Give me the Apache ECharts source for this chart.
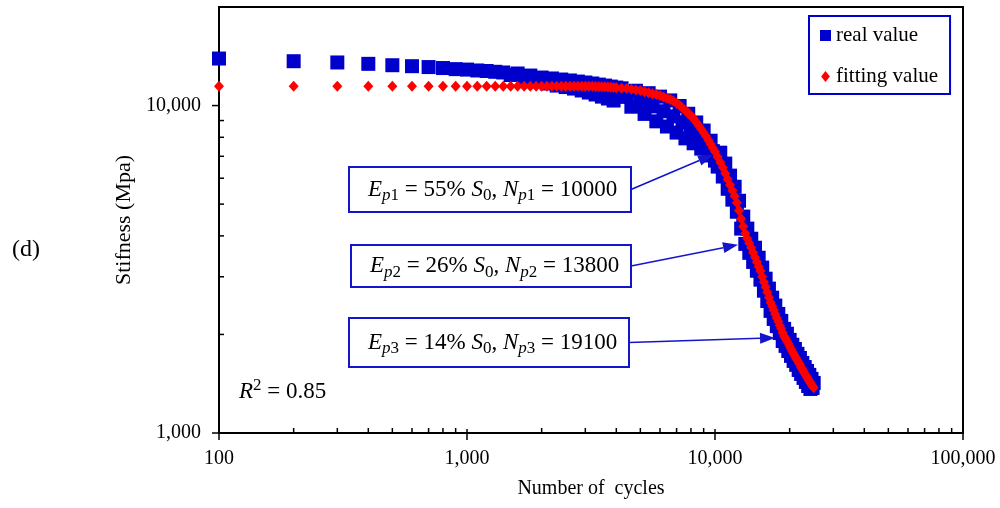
<!DOCTYPE html>
<html>
<head>
<meta charset="utf-8">
<script src="https://cdn.jsdelivr.net/npm/echarts@6/dist/echarts.min.js"></script>
<style>
  html, body { margin: 0; padding: 0; background: #fff; }
  #container { width: 1000px; height: 508px; }
</style>
</head>
<body>
<div id="container"></div>
<script>
// cycles shared by both series
const cycles = [
  100, 200, 300, 400, 500, 600, 700, 800, 900, 1000,
  1100, 1200, 1300, 1400, 1500, 1600, 1700, 1800, 1900, 2000,
  2100, 2200, 2300, 2400, 2500, 2600, 2700, 2800, 2900, 3000,
  3100, 3200, 3300, 3400, 3500, 3600, 3700, 3800, 3900, 4000,
  4200, 4400, 4600, 4800, 5000, 5200, 5400, 5600, 5800, 6000,
  6200, 6400, 6600, 6800, 7000, 7200, 7400, 7600, 7800, 8000,
  8200, 8400, 8600, 8800, 9000, 9200, 9400, 9600, 9800, 10000,
  10250, 10500, 10750, 11000, 11250, 11500, 11750, 12000, 12250, 12500,
  12750, 13000, 13250, 13500, 13750, 14000, 14250, 14500, 14750, 15000,
  15250, 15500, 15750, 16000, 16250, 16500, 16750, 17000, 17250, 17500,
  17750, 18000, 18250, 18500, 18750, 19000, 19250, 19500, 19750, 20000,
  20250, 20500, 20750, 21000, 21250, 21500, 21750, 22000, 22250, 22500,
  22750, 23000, 23250, 23500, 23750, 24000, 24250, 24500, 24750, 25000
];

// measured stiffness (MPa)
const realStiffness = [
  13920, 13660, 13540, 13410, 13280, 13190, 13110, 13020, 12920, 12880,
  12800, 12750, 12680, 12620, 12400, 12530, 12180, 12350, 11930, 12180,
  11680, 12100, 11510, 12010, 11390, 11930, 11270, 11840, 11120, 11760,
  10960, 11680, 10810, 11590, 10650, 11510, 10510, 11430, 10360, 11350,
  11290, 10630, 9920, 11100, 10290, 9430, 10910, 9940, 8950, 10650,
  9610, 8630, 10370, 9270, 8270, 9970, 8880, 7940, 9440, 8450,
  7670, 8880, 8080, 7390, 8390, 7650, 7040, 7810, 7260, 6790,
  6510, 7180, 6070, 6650, 5570, 6110, 5160, 5650, 4740, 5120,
  4210, 4580, 3780, 4210, 3550, 3920, 3330, 3680, 3130, 3430,
  2940, 3200, 2720, 2960, 2530, 2760, 2360, 2590, 2230, 2450,
  2120, 2310, 2020, 2200, 1910, 2080, 1845, 2010, 1780, 1925,
  1720, 1860, 1660, 1805, 1615, 1745, 1558, 1695, 1515, 1637,
  1473, 1590, 1432, 1547, 1392, 1505, 1363, 1463, 1373, 1422
];

// fitted stiffness (MPa)
const fittedStiffness = [
  11460, 11460, 11460, 11460, 11460, 11460, 11460, 11460, 11460, 11460,
  11460, 11460, 11460, 11460, 11460, 11460, 11460, 11460, 11460, 11460,
  11460, 11460, 11460, 11460, 11460, 11460, 11460, 11460, 11460, 11460,
  11450, 11445, 11440, 11430, 11420, 11410, 11395, 11380, 11360, 11340,
  11300, 11270, 11220, 11160, 11110, 11020, 10940, 10870, 10800, 10730,
  10630, 10530, 10440, 10330, 10170, 10020, 9830, 9650, 9480, 9310,
  9130, 8900, 8670, 8470, 8260, 8060, 7840, 7630, 7420, 7230,
  6960, 6710, 6470, 6200, 5960, 5720, 5500, 5290, 5050, 4780,
  4510, 4270, 4070, 3930, 3800, 3680, 3560, 3440, 3330, 3220,
  3125, 3000, 2890, 2790, 2690, 2595, 2505, 2440, 2370, 2305,
  2245, 2190, 2130, 2080, 2025, 1975, 1945, 1910, 1875, 1840,
  1805, 1775, 1745, 1720, 1690, 1665, 1640, 1615, 1585, 1565,
  1540, 1520, 1500, 1480, 1460, 1440, 1425, 1405, 1390, 1375
];

// axis ticks
const xMajorTicks = [100, 1000, 10000, 100000];
const xMinorTicks = [200, 300, 400, 500, 600, 700, 800, 900,
  2000, 3000, 4000, 5000, 6000, 7000, 8000, 9000,
  20000, 30000, 40000, 50000, 60000, 70000, 80000, 90000];
const yMajorTicks = [1000, 10000];
const yMinorTicks = [2000, 3000, 4000, 5000, 6000, 7000, 8000, 9000];

// annotations
const notePercent = [55, 26, 14];
const noteCycles = [10000, 13800, 19100];
const arrowTargets = [[9820, 7080], [12380, 3758], [17460, 1952]];
const rSquared = 0.85;

const FONT = '"Liberation Serif", "Times New Roman", serif';
const BLUE = '#0000cc';
const LINE_BLUE = '#1414cc';

const container = document.getElementById('container');
const chart = echarts.init(container, null, { renderer: 'canvas' });

function fmt(v) {
  return Math.round(v).toLocaleString('en-US');
}
function decadeLabel(v) {
  const e = Math.log10(v);
  return Math.abs(e - Math.round(e)) < 1e-6 ? fmt(v) : '';
}

// short tick marks drawn through the axes' own scale
function tickSeries(values, axis, from, to) {
  return {
    type: 'custom',
    silent: true,
    clip: false,
    z: 5,
    data: values.map(v => axis === 'x' ? [v, 1000] : [100, v]),
    renderItem: function (params, api) {
      const p = api.coord([api.value(0), api.value(1)]);
      const shape = axis === 'x'
        ? { x1: p[0], y1: p[1] + from, x2: p[0], y2: p[1] + to }
        : { x1: p[0] + from, y1: p[1], x2: p[0] + to, y2: p[1] };
      return { type: 'line', shape: shape, style: { stroke: '#000', lineWidth: 1.5 } };
    }
  };
}

const option = {
  animation: false,
  backgroundColor: '#fff',
  grid: {
    left: 219, right: 37, top: 7, bottom: 75,
    show: true, borderColor: '#000', borderWidth: 2, backgroundColor: 'transparent'
  },
  legend: {
    orient: 'vertical',
    left: 809,
    top: 16,
    padding: [9, 12, 7, 11],
    itemGap: 20,
    itemWidth: 11,
    itemHeight: 11,
    borderColor: BLUE,
    borderWidth: 2,
    textStyle: { fontFamily: FONT, fontSize: 21, color: '#000' },
    data: [
      { name: 'real value', icon: 'rect', itemStyle: { opacity: 1 } },
      { name: 'fitting value', icon: 'path://M4,0L8,5L4,10L0,5Z', itemStyle: { opacity: 1 } }
    ]
  },
  xAxis: {
    type: 'log',
    logBase: 10,
    min: 100,
    max: 100000,
    name: 'Number of  cycles',
    nameLocation: 'middle',
    nameGap: 46,
    nameTextStyle: { fontFamily: FONT, fontSize: 20, color: '#000' },
    axisLine: { show: true, onZero: false, lineStyle: { color: '#000', width: 2 } },
    axisTick: { show: false },
    splitLine: { show: false },
    axisLabel: { fontFamily: FONT, fontSize: 20, color: '#000', margin: 16, formatter: decadeLabel }
  },
  yAxis: {
    type: 'log',
    logBase: 10,
    min: 1000,
    max: 20000,
    name: 'Stifness (Mpa)',
    nameLocation: 'middle',
    nameGap: 82,
    nameTextStyle: { fontFamily: FONT, fontSize: 22, color: '#000' },
    axisLine: { show: true, onZero: false, lineStyle: { color: '#000', width: 2 } },
    axisTick: { show: false },
    splitLine: { show: false },
    axisLabel: { fontFamily: FONT, fontSize: 20, color: '#000', margin: 18, formatter: decadeLabel }
  },
  series: [
    {
      name: 'real value',
      type: 'scatter',
      symbol: 'rect',
      symbolSize: 14,
      clip: false,
      itemStyle: { color: BLUE, opacity: 1 },
      emphasis: { disabled: true },
      z: 2,
      data: cycles.map((n, i) => [n, realStiffness[i]])
    },
    {
      name: 'fitting value',
      type: 'scatter',
      symbol: 'diamond',
      symbolSize: [10, 11],
      clip: false,
      itemStyle: { color: '#ff0000', opacity: 1 },
      emphasis: { disabled: true },
      z: 3,
      data: cycles.map((n, i) => [n, fittedStiffness[i]])
    },
    tickSeries(xMajorTicks, 'x', 7, -4),
    tickSeries(xMinorTicks, 'x', 0, -5),
    tickSeries(yMajorTicks, 'y', -7, 0),
    tickSeries(yMinorTicks, 'y', 0, 5)
  ]
};

chart.setOption(option);

// annotation boxes with arrows pointing to the curve
const noteBoxes = [[349, 167, 282, 45], [351, 245, 280, 42], [349, 318, 280, 49]];
const mathRich = {
  i: { fontFamily: FONT, fontSize: 23, fontStyle: 'italic', lineHeight: 30 },
  si: { fontFamily: FONT, fontSize: 17, fontStyle: 'italic', lineHeight: 17, verticalAlign: 'bottom' },
  sub: { fontFamily: FONT, fontSize: 17, lineHeight: 17, verticalAlign: 'bottom' },
  sup: { fontFamily: FONT, fontSize: 17, lineHeight: 17, verticalAlign: 'top' }
};

const graphics = [];
noteBoxes.forEach(function (b, i) {
  const bx = b[0], by = b[1], bw = b[2], bh = b[3];
  const k = i + 1;
  graphics.push({
    type: 'rect', z: 10,
    shape: { x: bx, y: by, width: bw, height: bh },
    style: { fill: '#fff', stroke: LINE_BLUE, lineWidth: 2 }
  });
  graphics.push({
    type: 'text', z: 11,
    x: bx + 19, y: by + bh / 2,
    style: {
      text: '{i|E}{si|p}{sub|' + k + '} = ' + notePercent[i] + '% {i|S}{sub|0}, {i|N}{si|p}{sub|' + k + '} = ' + noteCycles[i],
      fontFamily: FONT, fontSize: 23, lineHeight: 30, fill: '#000',
      align: 'left', verticalAlign: 'middle',
      rich: mathRich
    }
  });
  const tip = chart.convertToPixel({ gridIndex: 0 }, arrowTargets[i]);
  const sx = bx + bw, sy = by + bh / 2;
  const dx = tip[0] - sx, dy = tip[1] - sy;
  const len = Math.sqrt(dx * dx + dy * dy);
  const ux = dx / len, uy = dy / len;
  const headLen = 15, headHalf = 5.5;
  const baseX = tip[0] - ux * headLen, baseY = tip[1] - uy * headLen;
  graphics.push({
    type: 'line', z: 11,
    shape: { x1: sx, y1: sy, x2: baseX, y2: baseY },
    style: { stroke: LINE_BLUE, lineWidth: 1.5 }
  });
  graphics.push({
    type: 'polygon', z: 11,
    shape: { points: [
      [tip[0], tip[1]],
      [baseX - uy * headHalf, baseY + ux * headHalf],
      [baseX + uy * headHalf, baseY - ux * headHalf]
    ] },
    style: { fill: LINE_BLUE }
  });
});

graphics.push({
  type: 'text', z: 11, x: 239, y: 392,
  style: {
    text: '{i|R}{sup|2} = ' + rSquared,
    fontFamily: FONT, fontSize: 23, lineHeight: 30, fill: '#000',
    align: 'left', verticalAlign: 'middle', rich: mathRich
  }
});
graphics.push({
  type: 'text', z: 11, x: 12, y: 250,
  style: { text: '(d)', fontFamily: FONT, fontSize: 24, fill: '#000', align: 'left', verticalAlign: 'middle' }
});

chart.setOption({ graphic: graphics });
</script>
</body>
</html>
